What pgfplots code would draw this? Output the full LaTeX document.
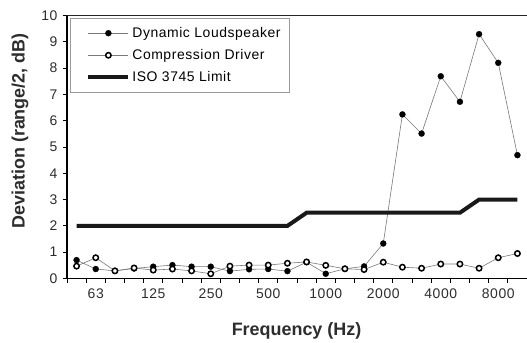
\documentclass[border=0pt]{standalone}
\usepackage{fontspec}
\setmainfont{Liberation Sans}[LetterSpace=4]
\newfontfamily\lblfont{Liberation Sans}
\usepackage{pgfplots}
\pgfplotsset{compat=1.18}
\definecolor{txtgray}{RGB}{45,45,45}
\definecolor{linegray}{RGB}{120,120,120}
\begin{document}
\begin{tikzpicture}
\begin{axis}[
  scale only axis, width=460bp, height=263bp,
  xmin=-0.5, xmax=23.5, ymin=0, ymax=10,
  axis x line*=bottom, axis y line*=left,
  axis line style={line width=1.6bp, black},
  tick align=outside, major tick length=4bp,
  tick style={black, line width=0.8bp},
  ytick={0,1,...,10},
  xtick={-0.5,0.5,...,23.5}, xticklabels={},
  extra x ticks={1,4,7,10,13,16,19,22},
  extra x tick labels={63,125,250,500,1000,2000,4000,8000},
  extra x tick style={major tick length=0pt, grid=none},
  /pgf/number format/assume math mode=true,
  ticklabel style={font=\fontsize{14}{16}\selectfont, text=txtgray},
  xticklabel style={yshift=-7bp},
  yticklabel style={xshift=-2bp},
  every axis y label/.style={at={(axis description cs:-0.1022,0.561)}, anchor=center, rotate=90, font=\lblfont\bfseries\fontsize{18}{20}\selectfont, text=txtgray},
  every axis x label/.style={at={(axis description cs:0.499,-0.2)}, anchor=center, font=\lblfont\bfseries\fontsize{18}{20}\selectfont, text=txtgray},
  xlabel={Frequency (Hz)},
  ylabel={Deviation (range/2, dB)},
  legend style={at={(rel axis cs:0,1)}, anchor=north west, xshift=3bp, yshift=-2.5bp,
    draw=gray!80, line width=0.8bp, fill=white, font=\fontsize{14}{16}\selectfont,
    row sep=6.5bp, inner xsep=7bp, inner ysep=7bp, cells={anchor=west},
    /tikz/every odd column/.append style={column sep=0bp}},
  legend image code/.code={\path (0bp,0bp); \draw[mark repeat=2,mark phase=2,#1] plot coordinates {(9bp,0bp) (29bp,0bp) (49bp,0bp)};},
]
\addplot[color=linegray, line width=0.6bp, mark=*, mark size=3bp, mark options={fill=black, draw=black, line width=0.3bp}]
coordinates {(0,0.70) (1,0.36) (2,0.29) (3,0.38) (4,0.45) (5,0.51) (6,0.45) (7,0.45) (8,0.28) (9,0.35) (10,0.36) (11,0.28) (12,0.62) (13,0.18) (14,0.37) (15,0.46) (16,1.33) (17,6.24) (18,5.51) (19,7.69) (20,6.72) (21,9.29) (22,8.20) (23,4.69)};
\addlegendentry{Dynamic Loudspeaker}
\addplot[color=linegray, line width=0.6bp, mark=*, mark size=2.7bp, mark options={fill=white, draw=black, line width=1.5bp}]
coordinates {(0,0.47) (1,0.79) (2,0.29) (3,0.40) (4,0.32) (5,0.36) (6,0.29) (7,0.18) (8,0.47) (9,0.51) (10,0.51) (11,0.58) (12,0.63) (13,0.50) (14,0.37) (15,0.34) (16,0.62) (17,0.43) (18,0.39) (19,0.55) (20,0.55) (21,0.39) (22,0.79) (23,0.95)};
\addlegendentry{Compression Driver}
\addplot[color=black!90, line width=4bp, no markers]
coordinates {(0,2) (1,2) (2,2) (3,2) (4,2) (5,2) (6,2) (7,2) (8,2) (9,2) (10,2) (11,2) (12,2.5) (13,2.5) (14,2.5) (15,2.5) (16,2.5) (17,2.5) (18,2.5) (19,2.5) (20,2.5) (21,3) (22,3) (23,3)};
\addlegendentry{ISO 3745 Limit}
\draw[line width=1.6bp, black!85] (rel axis cs:0,1) -- (rel axis cs:1,1);
\coordinate (bl) at (rel axis cs:0,0);
\coordinate (tr) at (rel axis cs:1,1);
\end{axis}
\pgfresetboundingbox
\path[use as bounding box] ([xshift=-67bp,yshift=-64.5bp]bl) rectangle ([yshift=15.5bp]tr);
\end{tikzpicture}
\end{document}
